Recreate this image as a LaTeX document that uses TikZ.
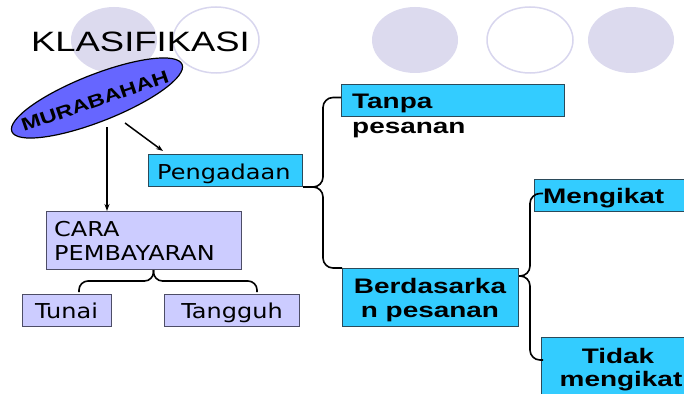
\documentclass[tikz,border=0pt]{standalone}
\usepackage{fontspec}
\setmainfont{Liberation Sans}
\newfontfamily\titlefont{Liberation Sans}[FakeStretch=1.3]
\newfontfamily\vfont{DejaVu Sans}[FakeStretch=1.17]
\newfontfamily\bfont{Liberation Sans}[FakeStretch=1.33]
\newfontfamily\mfont{Liberation Sans}[FakeStretch=1.3]
\usetikzlibrary{shapes.geometric,arrows.meta,calc}
\definecolor{cyanfill}{HTML}{33CCFF}
\definecolor{boxedge}{HTML}{2B4A5A}
\definecolor{lavfill}{HTML}{CCCCFF}
\definecolor{lavedge}{HTML}{4D4D66}
\definecolor{murfill}{HTML}{6666FF}
\definecolor{decofill}{HTML}{DCDAEE}
\definecolor{decoline}{HTML}{D8D6EE}
\begin{document}
\begin{tikzpicture}[x=1pt,y=-1pt,
  cyanbox/.style={draw=boxedge, fill=cyanfill, line width=1pt, inner sep=0pt, anchor=north west},
  lavbox/.style={draw=lavedge, fill=lavfill, line width=1pt, inner sep=0pt, anchor=north west},
  vtxt/.style={font=\vfont\fontsize{20.5}{24}\selectfont, inner sep=0pt},
  btxt/.style={font=\bfont\bfseries\fontsize{21}{24}\selectfont, inner sep=0pt},
  brace/.style={line width=1.6pt, rounded corners=10pt},
  arr/.style={line width=1.5pt, -{Stealth[length=7pt,width=5pt]}},
  deco/.style={fill=decofill, draw=none},
  decoring/.style={draw=decoline, line width=1.5pt, fill=white}]
\useasboundingbox (0,0) rectangle (684,393);
\clip (0,0) rectangle (684,393);
% decorative circles
\path[deco] (114,40) ellipse [x radius=43pt, y radius=33pt];
\path[decoring] (216,40) ellipse [x radius=43pt, y radius=33pt];
\path[deco] (415,40) ellipse [x radius=43pt, y radius=33pt];
\path[decoring] (530,40) ellipse [x radius=43pt, y radius=33pt];
\path[deco] (631,40) ellipse [x radius=43pt, y radius=33pt];
% title
\node[anchor=base west, inner sep=0pt, font=\titlefont\fontsize{28}{28}\selectfont] (title) at (31,52) {KLASIFIKASI};
% murabahah
\node[ellipse, draw=black, line width=1.2pt, fill=murfill, minimum width=183pt, minimum height=47pt, rotate=21.5, inner sep=0pt] (mur) at (97,98) {};
\node[rotate=19, inner sep=0pt, font=\mfont\bfseries\fontsize{18}{18}\selectfont] (murtxt) at (95,101) {MURABAHAH};
% boxes
\node[cyanbox, minimum width=154pt, minimum height=32pt] (peng) at (148,154) {};
\node[vtxt, anchor=base west] (pengtxt) at (157,179) {Pengadaan};
\node[lavbox, minimum width=195pt, minimum height=58pt] (cara) at (46,211) {};
\node[vtxt, anchor=base west] (caratxt1) at (54,236) {CARA};
\node[vtxt, anchor=base west] (caratxt2) at (54,260) {PEMBAYARAN};
\node[lavbox, minimum width=89pt, minimum height=32pt] (tunai) at (22,294) {};
\node[vtxt, anchor=base] (tunaitxt) at (66.5,318) {Tunai};
\node[lavbox, minimum width=135pt, minimum height=32pt] (tangguh) at (164,294) {};
\node[vtxt, anchor=base] (tangguhtxt) at (232,318) {Tangguh};
\node[cyanbox, minimum width=223pt, minimum height=32pt] (tanpa) at (341,84) {};
\node[btxt, anchor=base west] (tanpatxt1) at (352,109) {Tanpa};
\node[btxt, anchor=base west] (tanpatxt2) at (352,133) {pesanan};
\node[cyanbox, minimum width=176pt, minimum height=58pt] (berd) at (342,268) {};
\node[btxt, anchor=base] (berdtxt1) at (430,293) {Berdasarka};
\node[btxt, anchor=base] (berdtxt2) at (430,317) {n pesanan};
\node[cyanbox, minimum width=170pt, minimum height=32pt] (meng) at (534,179) {};
\node[btxt, anchor=base west] (mengtxt) at (543,203) {Mengikat};
\node[cyanbox, minimum width=160pt, minimum height=75pt] (tidak) at (541,337) {};
\node[btxt, anchor=base] (tidaktxt1) at (618,363) {Tidak};
\node[btxt, anchor=base] (tidaktxt2) at (621,386) {mengikat};
% arrows
\draw[arr] ($(mur.center)+(28,25)$) -- ($(peng.north west)+(15,-3)$);
\draw[arr] ($(mur.center)+(10,29)$) -- ($(cara.north west)+(61,0)$);
% braces
\coordinate (bx1) at (323,140);
\coordinate (bx2) at (323,230);
\draw[brace] (peng.south east) -| (bx1) |- ($(tanpa.west)+(0,-3)$);
\draw[brace] (peng.south east) -| (bx2) |- (berd.north west);
\coordinate (btip) at ($(berd.north east)+(0,8)$);
\coordinate (bx3) at (530,240);
\coordinate (bx4) at (530,320);
\draw[brace] (btip) -| (bx3) |- ($(meng.west)+(9,-2)$);
\draw[brace] (btip) -| (bx4) |- ($(tidak.north west)+(2,23)$);
\coordinate (cs) at ($(cara.south)+(9.5,0)$);
\coordinate (cm) at (153,281);
\coordinate (cl) at (79,292);
\coordinate (cr) at (257,292);
\draw[brace, rounded corners=9pt] (cs) -- (cs |- cm) -| (cl);
\draw[brace, rounded corners=9pt] (cs) -- (cs |- cm) -| (cr);
\end{tikzpicture}
\end{document}
